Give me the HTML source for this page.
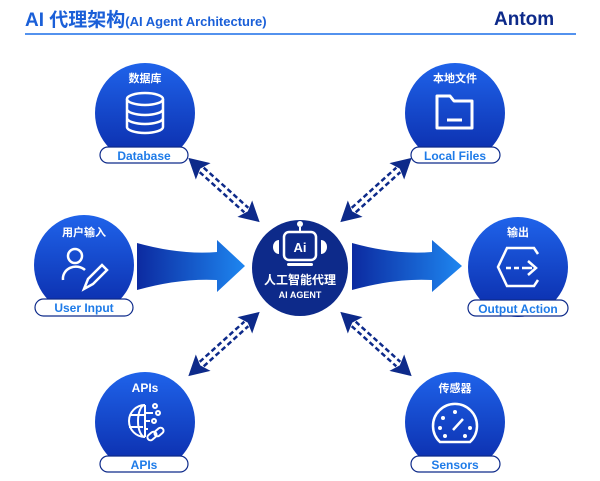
<!DOCTYPE html>
<html><head><meta charset="utf-8"><style>
html,body{margin:0;padding:0;background:#fff;}
svg{display:block;}
text{font-family:"Liberation Sans","Noto Sans CJK SC",sans-serif;font-weight:bold;}
</style></head><body>
<svg width="600" height="481" viewBox="0 0 600 481" xmlns="http://www.w3.org/2000/svg">
<defs>
<linearGradient id="cg" x1="0" y1="0" x2="0" y2="1"><stop offset="0" stop-color="#1f63ea"/><stop offset="1" stop-color="#0a2aa8"/></linearGradient>
<linearGradient id="al" x1="0" y1="0" x2="1" y2="0"><stop offset="0" stop-color="#0c2aa0"/><stop offset="1" stop-color="#1e86f0"/></linearGradient>
<g id="dash">
<line x1="-30" y1="-3" x2="30" y2="-3" stroke="#0d2a8a" stroke-width="2.5" stroke-dasharray="5 3"/>
<line x1="-30" y1="3" x2="30" y2="3" stroke="#0d2a8a" stroke-width="2.5" stroke-dasharray="5 3"/>
<path d="M-48 0 L-28 -11 L-32 0 L-28 11 Z" fill="#0d2a8a"/>
<path d="M48 0 L28 -11 L32 0 L28 11 Z" fill="#0d2a8a"/>
</g>
</defs>
<text x="25" y="26" font-size="19" fill="#1a5fd8">AI 代理架构<tspan font-size="13">(AI Agent Architecture)</tspan></text>
<text x="494" y="25" font-size="19" fill="#0d2a8a">Antom</text>
<line x1="25" y1="34" x2="576" y2="34" stroke="#1a6fe8" stroke-width="1.5"/>

<path d="M137 243 Q180 255 217 252 L217 240 L245 266 L217 292 L217 280 Q180 278 137 290 Z" fill="url(#al)"/>
<path d="M352 243 Q395 255 432 252 L432 240 L462 266 L432 292 L432 280 Q395 278 352 290 Z" fill="url(#al)"/>

<use href="#dash" transform="translate(224,190) rotate(42)"/>
<use href="#dash" transform="translate(376,190) rotate(-42)"/>
<use href="#dash" transform="translate(224,344) rotate(-42)"/>
<use href="#dash" transform="translate(376,344) rotate(42)"/>

<circle cx="300" cy="268" r="48" fill="#0d2a8a"/>
<circle cx="300" cy="224" r="3" fill="#fff"/>
<line x1="300" y1="227" x2="300" y2="232" stroke="#fff" stroke-width="2"/>
<rect x="284" y="232" width="32" height="28" rx="5" fill="none" stroke="#fff" stroke-width="2.5"/>
<text x="300" y="252" font-size="13" fill="#fff" text-anchor="middle">Ai</text>
<path d="M279 240 a6 7 0 0 0 0 14 Z" fill="#fff"/><path d="M321 240 a6 7 0 0 1 0 14 Z" fill="#fff"/>
<rect x="287" y="263" width="26" height="3" rx="1.5" fill="#fff"/>
<text x="300" y="284" font-size="12" fill="#fff" text-anchor="middle">人工智能代理</text>
<text x="300" y="298" font-size="9" fill="#fff" text-anchor="middle">AI AGENT</text>

<g>
<circle cx="145" cy="113" r="50" fill="url(#cg)"/>
<text x="145" y="82" font-size="11" fill="#fff" text-anchor="middle">数据库</text>
<g fill="none" stroke="#fff" stroke-width="2.5"><ellipse cx="145" cy="99" rx="18" ry="6"/><path d="M127 99 V127 a18 6 0 0 0 36 0 V99 M127 109 a18 6 0 0 0 36 0 M127 118 a18 6 0 0 0 36 0"/></g>
<rect x="100" y="147" width="88" height="16" rx="8" fill="#fff" stroke="#0d2a8a" stroke-width="1.2"/>
<text x="144" y="160" font-size="12" fill="#1e7be8" text-anchor="middle">Database</text>
</g>
<g>
<circle cx="455" cy="113" r="50" fill="url(#cg)"/>
<text x="455" y="82" font-size="11" fill="#fff" text-anchor="middle">本地文件</text>
<path d="M437 96 h13 l4 5 h18 v27 h-35 Z" fill="none" stroke="#fff" stroke-width="3" stroke-linejoin="round"/>
<line x1="447" y1="120" x2="462" y2="120" stroke="#fff" stroke-width="3"/>
<rect x="411" y="147" width="89" height="16" rx="8" fill="#fff" stroke="#0d2a8a" stroke-width="1.2"/>
<text x="455" y="160" font-size="12" fill="#1e7be8" text-anchor="middle">Local Files</text>
</g>
<g>
<circle cx="84" cy="265" r="50" fill="url(#cg)"/>
<text x="84" y="236" font-size="11" fill="#fff" text-anchor="middle">用户输入</text>
<g fill="none" stroke="#fff" stroke-width="2.5"><circle cx="75" cy="256" r="7"/><path d="M63 280 a13 12 0 0 1 22 -10"/><path d="M84 289 l4 -10 l14 -14 l5 5 l-14 14 Z"/></g>
<rect x="35" y="299" width="98" height="17" rx="8.5" fill="#fff" stroke="#0d2a8a" stroke-width="1.2"/>
<text x="84" y="312" font-size="12" fill="#1e7be8" text-anchor="middle">User Input</text>
</g>
<g>
<circle cx="518" cy="267" r="50" fill="url(#cg)"/>
<text x="518" y="236" font-size="11" fill="#fff" text-anchor="middle">输出</text>
<path d="M538 254 l-4 -6 h-27 l-9 19 l9 19 h27 l4 -6" fill="none" stroke="#fff" stroke-width="2.5"/>
<path d="M506 268 h5 M514 268 h5 M522 268 h10" stroke="#fff" stroke-width="2.5"/>
<path d="M528 261 l8 7 l-8 7" fill="none" stroke="#fff" stroke-width="2.5"/>
<rect x="468" y="300" width="100" height="16" rx="8" fill="#fff" stroke="#0d2a8a" stroke-width="1.2"/>
<text x="518" y="313" font-size="12" fill="#1e7be8" text-anchor="middle">Output Action</text>
</g>
<g>
<circle cx="145" cy="422" r="50" fill="url(#cg)"/>
<text x="145" y="392" font-size="12" fill="#fff" text-anchor="middle">APIs</text>
<g fill="none" stroke="#fff" stroke-width="2"><path d="M145 405 a16 16 0 1 0 0 32"/><path d="M145 405 a7 16 0 0 0 0 32"/><path d="M130 415 h14 M129 427 h14 M145 405 v32"/><path d="M145 413 h8 M145 421 h5 M145 429 h3"/><circle cx="155" cy="406" r="2"/><circle cx="158" cy="413" r="2"/><circle cx="154" cy="421" r="2"/><rect x="147" y="433" width="10" height="6" rx="3" transform="rotate(-40 152 436)"/><rect x="154" y="429" width="10" height="6" rx="3" transform="rotate(-40 159 432)"/></g>
<rect x="100" y="456" width="88" height="16" rx="8" fill="#fff" stroke="#0d2a8a" stroke-width="1.2"/>
<text x="144" y="469" font-size="12" fill="#1e7be8" text-anchor="middle">APIs</text>
</g>
<g>
<circle cx="455" cy="422" r="50" fill="url(#cg)"/>
<text x="455" y="392" font-size="11" fill="#fff" text-anchor="middle">传感器</text>
<path d="M440 442 a22 22 0 1 1 30 0 Z" fill="none" stroke="#fff" stroke-width="2.5"/>
<g fill="#fff"><circle cx="440" cy="428" r="2"/><circle cx="443" cy="418" r="2"/><circle cx="455" cy="412" r="2"/><circle cx="470" cy="428" r="2"/><circle cx="445" cy="436" r="2"/><circle cx="465" cy="436" r="2"/></g>
<line x1="453" y1="430" x2="463" y2="419" stroke="#fff" stroke-width="2.5"/>
<rect x="411" y="456" width="89" height="16" rx="8" fill="#fff" stroke="#0d2a8a" stroke-width="1.2"/>
<text x="455" y="469" font-size="12" fill="#1e7be8" text-anchor="middle">Sensors</text>
</g>
</svg>
</body></html>
